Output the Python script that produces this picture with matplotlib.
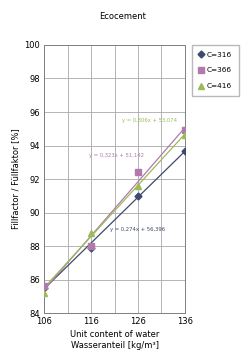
import matplotlib.pyplot as plt
import numpy as np

# Data
water = [106, 116, 126, 136]
series = ["C=316", "C=366", "C=416"]
fill_316 = [85.5, 87.9, 91.0, 93.7]
fill_366 = [85.6, 88.0, 92.4, 94.9]
fill_416 = [85.2, 88.8, 91.6, 94.6]
slopes = [0.274, 0.323, 0.306]
intercepts = [56.396, 51.142, 53.074]
eq_labels = ["y = 0,274x + 56,396", "y = 0,323x + 51,142", "y = 0,306x + 53,074"]

colors = ["#3d4a6b", "#b07aaa", "#9bbb59"]
markers = ["D", "s", "^"]
sizes = [3.5, 4, 4.5]
eq_pos = [(126.0, 89.0), (121.5, 93.4), (128.5, 95.5)]

fig = plt.figure(figsize=(2.46, 3.57), dpi=100)
ax = fig.add_axes([0.179, 0.123, 0.573, 0.751])

xs = np.array([106, 136])
for vals, m, b, c, mk, s, name, eq, pos in zip(
        [fill_316, fill_366, fill_416], slopes, intercepts, colors, markers,
        sizes, series, eq_labels, eq_pos):
    ax.plot(xs, m * xs + b, color=c, linewidth=0.9, zorder=2)
    ax.plot(water, vals, linestyle="none", marker=mk, color=c, markersize=s,
            label=name, zorder=3)
    ax.text(pos[0], pos[1], eq, color=c, fontsize=3.8, ha="center", va="center")

ax.set_xlim(106, 136)
ax.set_ylim(84, 100)
ax.set_xticks([106, 116, 126, 136])
ax.set_xticks([111, 121, 131], minor=True)
ax.set_yticks(range(84, 101, 2))
ax.tick_params(axis="both", which="both", labelsize=6, length=0, pad=3)
ax.grid(True, which="both", color="#a8a8a8", linewidth=0.6)
ax.set_axisbelow(True)
for sp in ax.spines.values():
    sp.set_color("#808080")
    sp.set_linewidth(0.7)

ax.set_xlabel("Unit content of water\nWasseranteil [kg/m³]", fontsize=6, labelpad=3)
ax.set_ylabel("Fillfactor / Füllfaktor [%]", fontsize=6, labelpad=3)
fig.text(0.5, 0.955, "Ecocement", fontsize=6, ha="center", va="center")

ax.legend(loc="upper left", bbox_to_anchor=(1.05, 1.0), fontsize=5.3,
          frameon=True, fancybox=False, edgecolor="#a8a8a8",
          handlelength=0.6, handletextpad=0.5, labelspacing=1.3,
          borderpad=0.9, borderaxespad=0)

fig.savefig("out.png", dpi=100)
